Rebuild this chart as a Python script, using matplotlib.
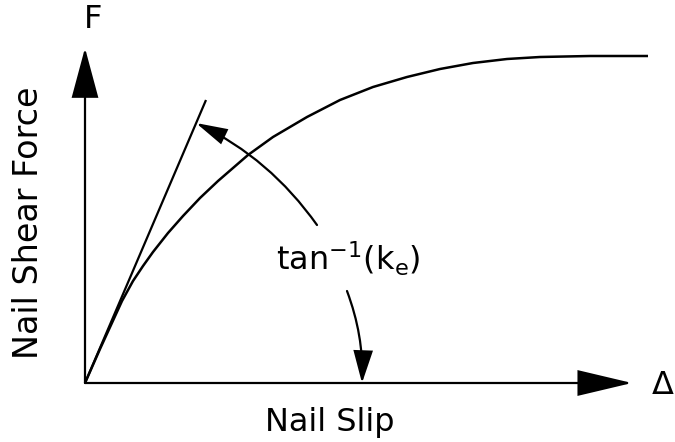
import matplotlib
matplotlib.use("Agg")
import matplotlib.pyplot as plt
from matplotlib.patches import FancyArrowPatch

# load-slip curve (arbitrary units)
slip = [0, 15, 37, 48, 58, 68, 83, 98, 115, 133, 163, 188, 222, 255, 288, 322, 355, 388, 422, 455, 505, 563]
force = [0, 34, 82, 102, 117, 131, 150, 167, 185, 202, 228, 246, 266, 283, 296, 306, 314, 320, 324, 326, 327, 327]

# initial stiffness line k_e
tangent_slip = [0, 121]
tangent_force = [0, 283]

# axis ends
x_axis_end = 547
y_axis_end = 335

x_label = "Nail Slip"
y_label = "Nail Shear Force"
x_symbol = "\u0394"
y_symbol = "F"
angle_label = r"tan$^{-1}$(k$_{e}$)"

plt.rcParams['font.family'] = 'DejaVu Sans'
plt.rcParams['mathtext.default'] = 'regular'

fig = plt.figure(figsize=(6.75, 4.42), dpi=100)
ax = fig.add_axes([0, 0, 1, 1])
ax.set_xlim(-85, 590)
ax.set_ylim(-59, 383)
ax.axis('off')

lw = 1.6

def arrow(p0, p1, length, width, rad=0.0):
    # filled-head arrow, head sizes in points
    a = FancyArrowPatch(p0, p1,
                        arrowstyle=f"-|>,head_length={length},head_width={width}",
                        connectionstyle=f"arc3,rad={rad}",
                        mutation_scale=1, lw=lw, color='black',
                        shrinkA=0, shrinkB=0, joinstyle='miter')
    ax.add_patch(a)

# axes
arrow((0, 0), (0, y_axis_end), 32, 8.6)
arrow((0, 0), (x_axis_end, 0), 35, 8.3)

# curve and tangent
ax.plot(slip, force, color='black', lw=1.8, solid_capstyle='butt', solid_joinstyle='round')
ax.plot(tangent_slip, tangent_force, color='black', lw=1.6, solid_capstyle='butt')

# angle callouts
arrow((232, 158), (111, 260), 19, 5, rad=0.13)
arrow((262, 92), (277, 0), 20, 6, rad=-0.1)

fs = 23
ax.text(263, 112, angle_label, fontsize=fs, ha='center', va='baseline')
ax.text(245, -48, x_label, fontsize=fs, ha='center', va='baseline')
ax.text(-56, 160, y_label, fontsize=24, ha='center', va='center', rotation=90)
ax.text(8, 363, y_symbol, fontsize=fs, ha='center', va='center')
ax.text(567, -3, x_symbol, fontsize=fs, ha='left', va='center')

fig.savefig("out.png", dpi=100)
